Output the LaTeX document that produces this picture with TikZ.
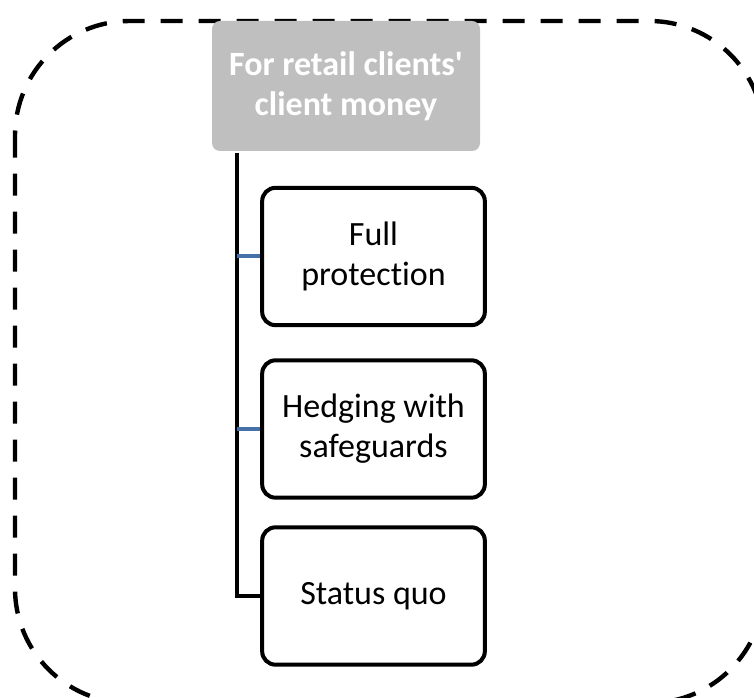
\documentclass[tikz,border=0pt]{standalone}
\usepackage{fontspec}
\setmainfont{Carlito}[Ligatures={NoCommon}]
\usetikzlibrary{positioning}

\definecolor{boxgrey}{HTML}{BFBFBF}
\definecolor{linkblue}{HTML}{4670A8}

\tikzset{
    rootbox/.style={fill=boxgrey, rounded corners=6pt, text=white, align=center,
        font=\fontsize{25.5}{30}\selectfont\bfseries,
        minimum width=201pt, minimum height=97.5pt, inner sep=0pt},
    leafbox/.style={draw, line width=3pt, rounded corners=10pt, align=center,
        font=\fontsize{25.5}{30}\selectfont,
        minimum width=167pt, minimum height=103pt, inner sep=0pt},
    frame/.style={line width=3.3pt, dash pattern=on 16.5pt off 12pt, rounded corners=86pt},
}

\begin{document}
\begin{tikzpicture}[x=0.75pt,y=-0.75pt]
    \useasboundingbox (0,0) rectangle (754,698);
    \draw[frame] (15,21) rectangle (764,703);
    \node[rootbox] (root) at (346,86) {For retail clients\textquotesingle\\client money};
    \node[leafbox] (full) at (373.5,256.5) {Full\\protection};
    \node[leafbox] (hedge) at (373.5,429) {Hedging with\\safeguards};
    \node[leafbox] (quo) at (373.5,596) {Status quo};
    \coordinate (trunk) at (237,153);
    \draw[line width=3pt] (trunk) |- (quo.west);
    \draw[linkblue, line width=3pt] (trunk |- full.west) -- (full.west);
    \draw[linkblue, line width=3pt] (trunk |- hedge.west) -- (hedge.west);
\end{tikzpicture}
\end{document}
